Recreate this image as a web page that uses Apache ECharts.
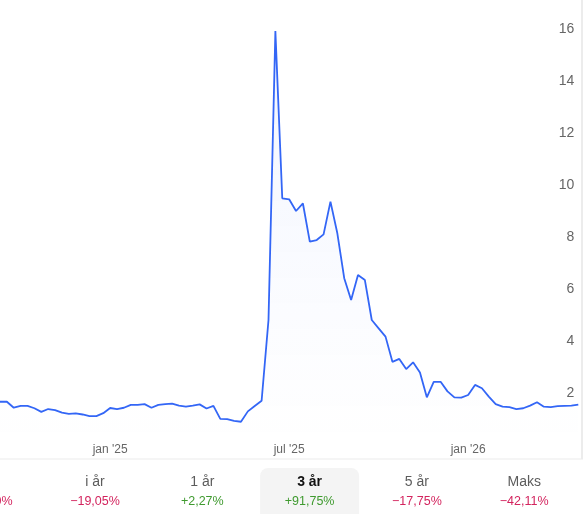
<!DOCTYPE html>
<html>
<head>
<meta charset="utf-8">
<script src="https://cdn.jsdelivr.net/npm/echarts@6/dist/echarts.min.js"></script>
<style>
  html, body { margin: 0; padding: 0; background: #fff; }
  #chart { width: 583px; height: 514px; }
</style>
</head>
<body>
<div id="chart"></div>
<script>
// weekly dates (week start)
const weeks = [
  '2024-09-09','2024-09-16','2024-09-23','2024-09-30','2024-10-07','2024-10-14','2024-10-21','2024-10-28',
  '2024-11-04','2024-11-11','2024-11-18','2024-11-25','2024-12-02','2024-12-09','2024-12-16','2024-12-23',
  '2024-12-30','2025-01-06','2025-01-13','2025-01-20','2025-01-27','2025-02-03','2025-02-10','2025-02-17',
  '2025-02-24','2025-03-03','2025-03-10','2025-03-17','2025-03-24','2025-03-31','2025-04-07','2025-04-14',
  '2025-04-21','2025-04-28','2025-05-05','2025-05-12','2025-05-19','2025-05-26','2025-06-02','2025-06-09',
  '2025-06-16','2025-06-23','2025-06-30','2025-07-07','2025-07-14','2025-07-21','2025-07-28','2025-08-04',
  '2025-08-11','2025-08-18','2025-08-25','2025-09-01','2025-09-08','2025-09-15','2025-09-22','2025-09-29',
  '2025-10-06','2025-10-13','2025-10-20','2025-10-27','2025-11-03','2025-11-10','2025-11-17','2025-11-24',
  '2025-12-01','2025-12-08','2025-12-15','2025-12-22','2025-12-29','2026-01-05','2026-01-12','2026-01-19',
  '2026-01-26','2026-02-02','2026-02-09','2026-02-16','2026-02-23','2026-03-02','2026-03-09','2026-03-16',
  '2026-03-23','2026-03-30','2026-04-06','2026-04-13','2026-04-20'
]

const prices = [
  1.65, 1.65, 1.42, 1.49, 1.49, 1.40, 1.26, 1.37, 1.33, 1.23,
  1.18, 1.20, 1.16, 1.10, 1.10, 1.21, 1.41, 1.37, 1.42, 1.53,
  1.53, 1.56, 1.42, 1.53, 1.56, 1.58, 1.50, 1.46, 1.50, 1.55,
  1.39, 1.49, 0.99, 0.98, 0.91, 0.88, 1.28, 1.49, 1.69, 4.80,
  15.93, 9.49, 9.45, 9.00, 9.29, 7.82, 7.88, 8.10, 9.36, 8.14,
  6.41, 5.57, 6.53, 6.34, 4.80, 4.48, 4.16, 3.19, 3.30, 2.91,
  3.17, 2.78, 1.82, 2.42, 2.42, 2.05, 1.82, 1.81, 1.91, 2.30,
  2.17, 1.85, 1.56, 1.46, 1.44, 1.37, 1.40, 1.50, 1.63, 1.46,
  1.44, 1.48, 1.49, 1.50, 1.54
]

// x tick labels, keyed by the week nearest the month start
const xTickLabels = {
  '2024-12-30': "jan '25",
  '2025-06-30': "jul '25",
  '2025-12-29': "jan '26"
}

// period buttons below the chart
const periods = ['1 m', 'i år', '1 år', '3 år', '5 år', 'Maks']
const changes = ['−21,30%', '−19,05%', '+2,27%', '+91,75%', '−17,75%', '−42,11%']
const selectedPeriod = '3 år'

const FONT = 'Arial, "Liberation Sans", sans-serif'

const chart = echarts.init(document.getElementById('chart'), null, { renderer: 'canvas' })

const graphics = [
  // right border of the card
  { type: 'rect', shape: { x: 581, y: 0, width: 2, height: 459 }, style: { fill: '#ececec' }, silent: true },
  // separator above the buttons
  { type: 'rect', shape: { x: 0, y: 458.5, width: 583, height: 1 }, style: { fill: '#ebebeb' }, silent: true }
]

periods.forEach((p, i) => {
  const cx = 95 + (i - 1) * 107.3
  const sel = p === selectedPeriod
  if (sel) {
    graphics.push({
      type: 'rect',
      shape: { x: cx - 49.5, y: 468, width: 99, height: 70, r: 8 },
      style: { fill: '#f4f4f4' },
      z: 0
    })
  }
  graphics.push({
    type: 'text',
    x: cx, y: 482,
    style: {
      text: p, align: 'center', verticalAlign: 'middle',
      font: (sel ? 'bold ' : '') + '14px ' + FONT,
      fill: sel ? '#111' : '#5c5c5c'
    },
    z: 2
  })
  graphics.push({
    type: 'text',
    x: cx, y: 501.5,
    style: {
      text: changes[i], align: 'center', verticalAlign: 'middle',
      font: '12.5px ' + FONT,
      fill: changes[i].startsWith('+') ? '#3f9a2f' : '#d3245e'
    },
    z: 2
  })
})

const option = {
  animation: false,
  grid: { left: 0, right: 4.7, top: 29.3, bottom: 69.4 },
  xAxis: {
    type: 'category',
    data: weeks,
    boundaryGap: false,
    axisLine: { show: false },
    axisTick: { show: false },
    splitLine: { show: false },
    axisLabel: {
      interval: (idx, val) => xTickLabels[val] !== undefined,
      formatter: val => xTickLabels[val] || '',
      color: '#666',
      fontSize: 12,
      fontFamily: FONT,
      margin: -1
    }
  },
  yAxis: {
    type: 'value',
    position: 'right',
    min: 0,
    max: 16,
    interval: 2,
    axisLine: { show: false },
    axisTick: { show: false },
    splitLine: { show: false },
    axisLabel: {
      inside: true,
      showMinLabel: false,
      margin: 4,
      color: '#666',
      fontSize: 14,
      fontFamily: FONT
    }
  },
  series: [
    {
      type: 'line',
      data: prices,
      symbol: 'none',
      smooth: false,
      lineStyle: { color: '#3366f6', width: 1.8 },
      areaStyle: {
        color: {
          type: 'linear', x: 0, y: 0, x2: 0, y2: 1,
          colorStops: [
            { offset: 0, color: 'rgba(51, 102, 246, 0.09)' },
            { offset: 1, color: 'rgba(51, 102, 246, 0.0)' }
          ]
        }
      }
    }
  ],
  graphic: graphics
}

chart.setOption(option)
</script>
</body>
</html>
